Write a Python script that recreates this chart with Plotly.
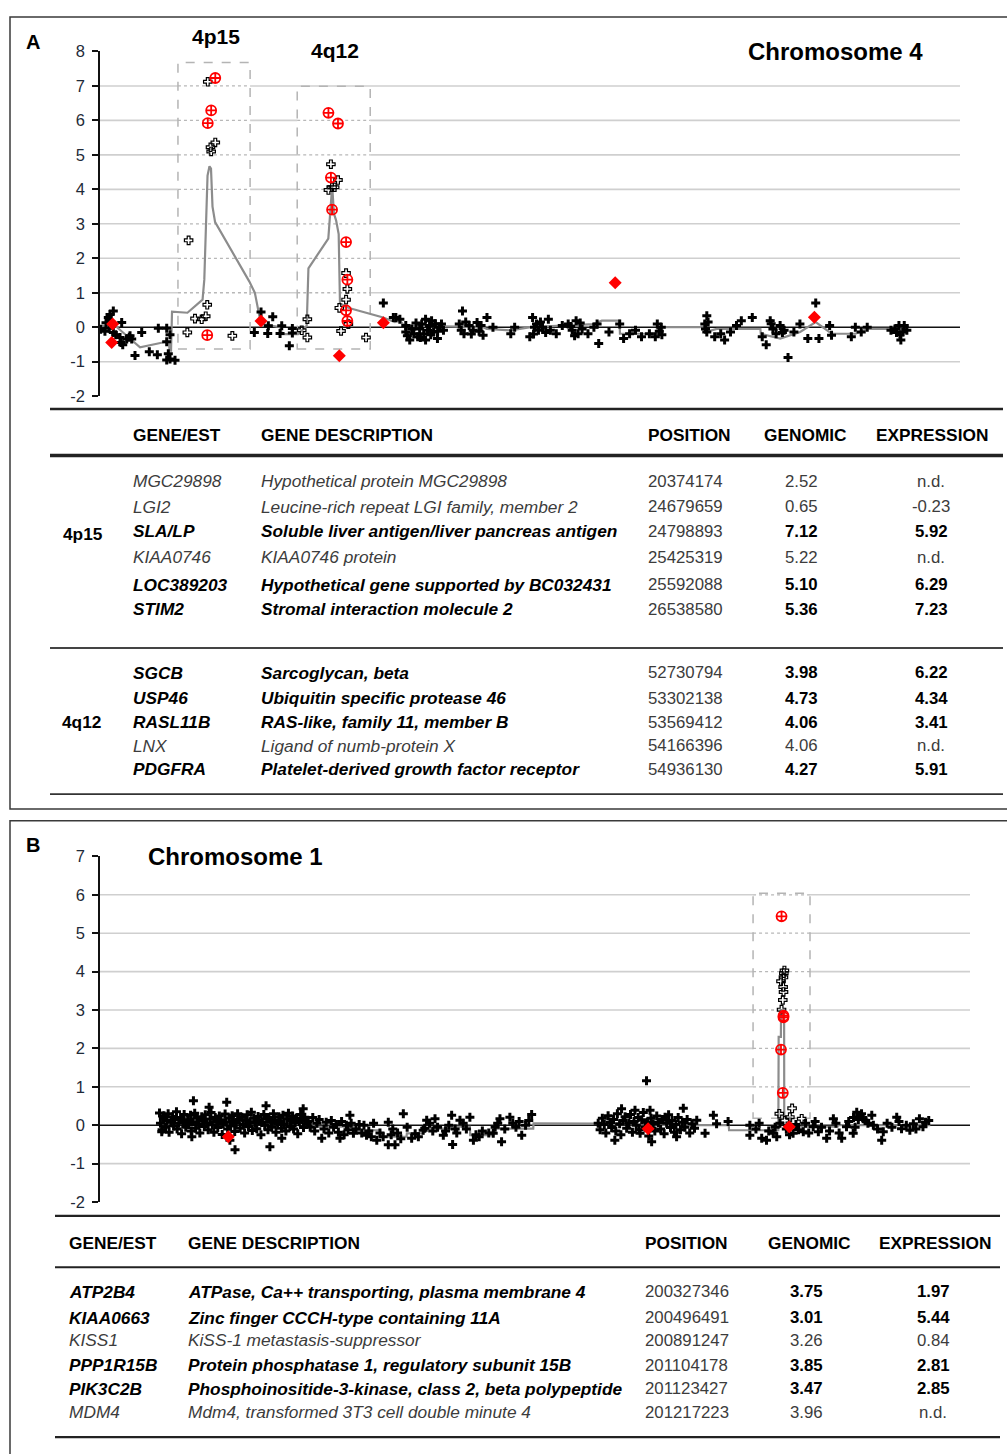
import plotly.graph_objects as go

W, H = 1007, 1454
FONT = "Liberation Sans, Arial, sans-serif"

# ---------------- Chromosome 4 data (x = position in Mb, y = log2 ratio) ----------------
chr4_black = [
    (0.02, -0.06), (1.0, -0.12), (1.25, 0.13), (1.78, 0.28), (2.01, -0.03), (2.18, 0.11), (2.18, 0.37),
    (2.94, 0.47), (2.94, -0.15), (3.5, -0.22), (4.49, -0.30), (4.72, -0.44), (4.88, 0.14), (5.12, -0.51),
    (6.04, -0.34), (6.64, -0.29), (6.81, -0.25), (7.20, -0.34), (7.96, -0.82), (9.51, -0.15), (11.27, -0.71),
    (13.13, -0.80), (13.36, -0.03), (15.30, -0.03), (15.30, -0.42), (15.67, -0.77), (15.30, -0.95),
    (16.06, -0.22), (17.22, -0.96), (16.06, -0.92),
    (35.58, -0.15), (37.13, 0.44), (38.82, 0.04), (38.68, -0.18), (39.84, 0.30), (41.53, -0.18),
    (41.92, 0.04), (43.68, -0.54), (44.38, -0.04), (44.38, -0.17),
    (65.44, 0.70), (67.75, 0.28), (68.33, 0.28), (69.26, 0.23), (70.63, 0.05), (70.63, -0.14), (71.0, -0.25),
    (71.55, -0.37), (72.0, -0.05), (72.48, -0.19), (73.0, 0.12), (73.38, -0.28), (73.84, -0.05), (74.0, -0.30),
    (74.31, 0.09), (74.77, -0.19), (75.21, 0.23), (75.21, -0.37), (75.67, -0.09), (76.13, 0.05), (76.4, -0.22),
    (76.60, 0.19), (77.06, -0.14), (77.5, 0.10), (77.96, -0.33), (78.0, -0.12), (78.43, 0.00), (78.89, 0.09),
    (79.35, -0.09), (83.01, 0.09), (83.47, -0.09), (83.75, 0.47), (84.10, -0.19), (84.5, 0.15), (85.30, 0.05),
    (85.8, -0.20), (86.23, -0.09), (87.13, 0.14), (87.6, -0.12), (88.06, 0.05), (88.52, -0.23), (89.42, 0.28),
    (90.81, 0.00), (94.93, -0.19), (95.83, 0.00), (99.33, -0.28), (99.98, 0.28), (100.2, -0.20), (100.42, 0.00),
    (100.88, 0.09), (101.34, -0.09), (101.8, 0.15), (102.27, 0.00), (103.0, -0.15), (103.63, 0.23),
    (104.10, -0.09), (105.46, -0.19), (106.85, 0.05), (108.22, 0.09), (108.8, 0.02), (109.14, -0.09),
    (109.7, -0.25), (110.05, 0.19), (110.51, -0.19), (111.0, 0.12), (111.44, -0.05), (112.80, -0.19),
    (114.17, 0.00), (114.91, 0.09), (115.28, -0.47), (117.66, -0.14), (120.14, 0.09), (121.04, -0.33),
    (122.43, -0.19), (123.80, -0.09), (125.19, -0.28), (127.01, -0.19), (128.38, -0.28), (128.84, 0.09),
    (129.3, -0.12), (129.77, 0.00), (129.9, -0.22), (139.84, 0.09), (140.0, -0.05), (140.30, 0.33),
    (140.30, -0.14), (140.6, 0.15), (142.13, -0.28), (143.52, -0.19), (144.42, -0.37), (145.79, -0.14),
    (147.18, 0.05), (148.29, 0.19), (150.83, 0.28), (153.13, -0.28), (154.05, -0.51), (154.98, 0.19),
    (155.2, 0.10), (155.60, -0.05), (156.34, -0.19), (157.27, 0.05), (157.8, -0.15), (158.19, -0.09),
    (159.10, -0.88), (160.46, -0.14), (161.85, 0.09), (163.68, -0.33), (165.51, 0.70), (166.25, -0.33),
    (168.73, 0.05), (169.17, -0.23), (173.75, -0.28), (174.68, 0.00), (176.04, -0.14), (177.43, 0.00),
    (182.92, -0.09), (183.84, -0.05), (184.2, -0.15), (184.77, 0.05), (185.0, -0.22), (185.21, -0.37),
    (185.67, -0.14), (186.0, 0.05), (186.60, -0.09),
]
chr4_open = [
    (20.07, -0.15), (20.37, 2.52), (21.85, 0.25), (23.40, 0.23), (24.33, 0.32), (24.68, 0.65), (24.80, 7.12),
    (25.43, 5.22), (25.59, 5.10), (26.54, 5.36), (30.49, -0.25),
    (46.55, -0.09), (47.85, -0.30), (47.85, 0.23), (52.73, 3.98), (53.30, 4.73), (53.57, 4.06), (54.17, 4.06),
    (54.94, 4.27), (55.25, 0.56), (55.65, -0.11), (56.81, 1.57), (57.11, 1.11), (56.81, 0.80), (57.34, 0.09),
    (61.43, -0.30),
]
chr4_red_diamond = [(2.80, 0.09), (2.57, -0.44), (37.13, 0.18), (55.25, -0.83), (65.44, 0.13),
                    (119.1, 1.29), (165.2, 0.29)]
chr4_red_open = [(24.68, -0.23), (24.80, 5.92), (25.59, 6.29), (26.54, 7.23), (52.73, 6.22), (53.30, 4.34),
                 (53.57, 3.41), (54.94, 5.91), (56.81, 2.47), (57.11, 1.38), (56.81, 0.49), (57.11, 0.18)]
chr4_segments = [
    (0.25, 0.04), (3.33, 0.05), (9.12, -0.58), (14.9, -0.43), (15.83, -0.43), (15.95, -0.68), (16.3, -0.68),
    (16.53, 0.45), (20.1, 0.42), (23.6, 0.8), (24.0, 1.38), (24.75, 4.4), (25.2, 4.67), (25.55, 4.6),
    (25.9, 3.5), (26.5, 3.05), (34.4, 1.33), (35.7, 1.0), (37.1, 0.1), (41.5, 0.0), (42.0, -0.2), (45.7, -0.2),
    (47.7, 0.04), (48.1, 1.71), (52.7, 2.57), (53.1, 3.3), (53.6, 4.1), (54.0, 3.3), (54.5, 3.1), (55.1, 2.7),
    (55.4, 0.7), (56.6, 0.6), (57.7, 0.55), (65.4, 0.28), (68.1, 0.15), (69.3, 0.19), (70.2, 0.05),
    (88.5, 0.0), (89.4, -0.05), (94.9, -0.09), (99.5, 0.0), (114.2, 0.09), (116.0, 0.19), (120.1, 0.19),
    (120.2, -0.19), (128.8, -0.19), (128.9, 0.0), (139.8, 0.0), (140.0, -0.14), (142.6, -0.05), (152.7, -0.05),
    (152.8, -0.19), (157.3, -0.33), (161.9, -0.14), (164.6, 0.09), (165.5, 0.15), (169.2, -0.19),
    (174.7, -0.19), (177.4, -0.05), (186.6, -0.05),
]
chr4_boxes = [(17.9, 34.6, -0.63, 7.68), (45.5, 62.4, -0.63, 6.99)]

# ---------------- Chromosome 1 data ----------------
chr1_black = [
    (6.1, 0.32), (6.4, 0.05), (6.8, -0.17), (6.9, -0.12), (7.3, 0.18), (7.5, 0.25), (8.0, -0.05), (8.4, 0.12),
    (8.8, 0.30), (9.1, -0.18), (9.7, 0.08), (10.2, 0.22), (10.5, -0.02), (10.9, 0.15), (11.4, 0.35),
    (11.6, -0.10), (12.1, 0.05), (12.7, 0.20), (13.0, -0.22), (13.5, 0.10), (13.8, 0.28), (14.3, -0.05),
    (14.9, 0.14), (15.2, 0.02), (15.8, 0.26), (16.0, -0.15), (16.2, -0.30), (16.5, 0.09), (16.7, 0.64),
    (17.1, 0.31), (17.4, -0.08), (17.9, 0.18), (18.3, 0.04), (18.7, -0.20), (19.3, 0.22), (19.6, 0.12),
    (20.1, -0.03), (20.4, 0.27), (20.9, 0.06), (21.3, -0.12), (21.6, 0.47), (21.9, 0.16), (22.2, 0.33),
    (22.6, 0.01), (23.1, -0.18), (23.5, 0.20), (24.0, 0.10), (24.3, -0.06), (24.8, 0.24), (25.2, 0.14),
    (25.7, -0.24), (26.0, 0.03), (26.6, 0.29), (26.9, 0.08), (27.1, 0.60), (27.4, -0.10), (27.9, 0.19),
    (28.1, -0.39), (28.3, -0.02), (28.8, 0.25), (29.2, 0.11), (29.6, -0.16), (29.7, -0.64), (30.1, 0.06),
    (30.5, 0.30), (31.0, 0.15), (31.3, -0.08), (31.8, 0.21), (32.2, 0.02), (32.7, -0.20), (33.0, 0.13),
    (33.5, 0.27), (33.9, -0.04), (34.4, 0.09), (34.8, 0.34), (35.1, -0.14), (35.6, 0.18), (36.0, 0.05),
    (36.5, -0.09), (36.9, 0.23), (37.3, 0.12), (37.8, -0.25), (38.1, 0.07), (38.7, 0.28), (39.0, 0.00),
    (39.4, 0.51), (39.6, 0.16), (40.0, -0.12), (40.3, 0.20), (40.6, -0.56), (40.9, 0.08), (41.2, -0.05),
    (41.7, 0.30), (42.1, 0.14), (42.5, -0.18), (43.0, 0.04), (43.4, 0.22), (43.9, 0.10), (44.2, -0.08),
    (44.3, -0.34), (44.7, 0.26), (45.0, 0.02), (45.6, -0.15), (45.9, 0.17), (46.4, 0.31), (46.8, -0.03),
    (47.2, 0.12), (47.7, 0.24), (48.0, -0.10), (48.5, 0.06), (48.9, 0.19), (49.3, -0.22), (49.8, 0.09),
    (50.2, 0.28), (50.6, 0.15), (51.0, 0.43), (51.1, -0.06), (51.5, 0.21), (51.9, 0.11),
    (52.5, 0.10), (53.2, -0.05), (54.0, 0.20), (54.6, -0.15), (55.3, 0.05), (56.0, 0.15), (56.8, -0.34),
    (57.5, -0.10), (58.2, 0.08), (59.0, -0.20), (59.8, 0.12), (60.5, -0.05), (61.3, 0.02), (62.0, -0.18),
    (62.5, -0.34), (63.0, 0.10), (63.8, -0.25), (64.5, 0.00), (65.0, -0.12), (65.6, 0.26), (66.0, 0.05),
    (66.7, -0.21), (67.5, -0.10), (68.5, 0.02), (69.3, -0.20), (70.0, 0.00), (70.8, -0.26), (71.5, -0.15),
    (72.3, -0.30), (73.0, 0.05), (74.0, -0.39), (75.0, -0.20), (76.0, -0.30), (77.6, 0.08), (77.6, -0.51),
    (78.5, -0.25), (79.0, -0.10), (79.7, -0.51), (80.5, -0.20), (81.5, -0.35), (82.3, 0.30), (83.5, -0.05),
    (84.9, -0.34), (86.0, -0.22), (87.0, -0.30), (88.5, -0.13), (89.0, -0.08), (89.6, 0.13), (90.5, 0.05),
    (91.5, -0.15), (92.2, 0.17), (93.0, -0.05), (94.8, -0.26), (95.5, -0.15), (96.5, 0.00), (97.4, 0.26),
    (97.7, -0.50), (98.5, -0.10), (99.0, -0.20), (100.0, 0.13), (101.0, 0.05), (102.0, -0.10), (103.1, 0.21),
    (104.2, -0.39), (105.0, -0.25), (106.0, -0.30), (107.0, -0.15), (109.0, -0.20), (110.4, -0.21),
    (111.0, -0.05), (111.8, 0.05), (112.5, 0.17), (113.0, -0.43), (114.0, -0.10), (115.6, 0.21),
    (116.5, 0.05), (117.5, -0.05), (118.5, 0.10), (119.3, -0.26), (120.5, 0.00), (121.5, 0.12), (122.4, 0.28),
    (143.2, 0.05), (143.8, -0.12), (144.5, 0.18), (145.1, 0.02), (145.6, -0.20), (146.3, 0.25), (146.9, 0.08),
    (147.4, -0.06), (148.0, 0.15), (148.4, -0.39), (148.7, -0.15), (149.2, 0.30), (149.9, 0.04), (150.3, -0.25),
    (150.5, 0.43), (151.0, 0.12), (151.6, 0.22), (152.1, -0.08), (152.8, 0.06), (153.3, 0.28), (153.9, -0.18),
    (154.4, 0.10), (154.7, 0.39), (155.1, 0.00), (155.7, 0.20), (156.0, -0.12), (156.3, -0.21), (156.8, 0.14),
    (157.3, 0.33), (157.9, -0.05), (158.3, 1.16), (158.6, 0.08), (159.0, -0.28), (159.4, 0.39), (159.7, 0.18),
    (159.9, -0.43), (160.4, 0.03), (160.9, -0.15), (161.5, 0.24), (162.0, 0.07), (162.7, -0.10), (163.3, 0.15),
    (163.8, -0.22), (164.1, 0.21), (164.6, 0.05), (165.2, 0.27), (165.8, -0.06), (166.3, 0.12), (167.0, -0.18),
    (167.5, 0.02), (167.7, -0.30), (168.2, 0.20), (168.9, -0.12), (169.5, 0.08), (169.8, 0.44), (170.3, -0.05),
    (171.0, 0.15), (171.8, -0.20), (172.5, 0.04), (173.3, -0.08), (174.0, 0.13), (176.6, -0.21), (179.2, 0.26),
    (180.2, 0.04), (183.8, 0.10),
    (190.6, 0.00), (190.6, -0.26), (192.5, -0.10), (193.5, 0.05), (194.3, -0.34), (195.8, -0.39),
    (196.5, -0.15), (197.9, -0.21), (198.5, -0.05), (199.0, -0.30), (200.0, 0.05), (202.0, -0.10),
    (203.0, -0.25), (204.1, -0.21), (205.0, 0.02), (205.8, -0.12), (207.3, -0.17), (208.0, 0.05),
    (209.0, -0.20), (210.4, -0.04), (211.0, 0.10), (212.0, -0.17), (213.0, -0.05), (214.6, -0.34),
    (215.5, -0.15), (216.7, 0.17), (217.5, 0.05), (218.5, -0.20), (219.3, -0.34), (220.8, -0.04),
    (221.5, 0.10), (222.9, -0.21), (223.0, 0.20), (223.5, -0.05), (224.0, 0.34), (224.5, 0.15), (225.0, 0.25),
    (225.5, 0.30), (226.0, 0.17), (226.8, 0.12), (227.5, 0.05), (228.7, 0.26), (229.2, 0.00), (230.5, -0.10),
    (231.8, -0.39), (232.3, -0.17), (233.5, 0.05), (235.0, -0.05), (236.5, 0.21), (237.2, 0.10),
    (238.0, -0.09), (239.5, 0.00), (240.6, -0.13), (241.7, 0.04), (242.5, -0.10), (243.6, 0.17),
    (244.7, -0.04), (245.5, 0.08), (246.5, 0.12),
]
chr1_open = [(200.33, 3.75), (200.50, 3.01), (200.89, 3.26), (201.10, 3.85), (201.12, 3.47), (201.22, 3.96),
             (201.4, 4.03), (201.0, 3.60), (199.8, 0.30), (201.5, 0.12), (203.1, 0.21), (203.8, 0.44),
             (206.8, 0.17)]
chr1_red_diamond = [(27.6, -0.30), (158.8, -0.09), (202.9, -0.04)]
chr1_red_open = [(200.50, 5.44), (200.33, 1.97), (200.89, 0.84), (201.10, 2.81), (201.12, 2.85)]
chr1_segments = [
    (6.25, 0.04), (54.2, 0.04), (54.3, -0.04), (66.7, -0.04), (66.8, -0.13), (75.0, -0.13), (75.1, -0.30),
    (83.3, -0.30), (83.4, -0.21), (88.5, -0.21), (88.6, -0.09), (96.9, -0.09), (97.0, -0.04), (103.1, -0.04),
    (103.2, -0.26), (110.4, -0.26), (110.5, -0.09), (122.9, -0.09), (123.0, 0.05), (143.0, 0.04),
    (170.0, 0.0), (184.0, 0.0), (184.1, -0.13), (199.5, -0.13), (199.6, 2.3), (200.3, 2.3), (200.35, 3.0),
    (201.3, 3.0), (201.35, 0.2), (203.5, 0.2), (203.6, -0.04), (218.0, -0.04), (218.1, 0.0), (247.0, 0.0),
]
chr1_boxes = [(191.6, 209.4, 0.18, 6.04)]

# ---------------- Tables ----------------
table_cols = ["GENE/EST", "GENE DESCRIPTION", "POSITION", "GENOMIC", "EXPRESSION"]
tableA_region = ["4p15", "4q12"]
tableA_gene = ["MGC29898", "LGI2", "SLA/LP", "KIAA0746", "LOC389203", "STIM2",
               "SGCB", "USP46", "RASL11B", "LNX", "PDGFRA"]
tableA_desc = ["Hypothetical protein MGC29898", "Leucine-rich repeat LGI family, member 2",
               "Soluble liver antigen/liver pancreas antigen", "KIAA0746 protein",
               "Hypothetical gene supported by BC032431", "Stromal interaction molecule 2",
               "Sarcoglycan, beta", "Ubiquitin specific protease 46", "RAS-like, family 11, member B",
               "Ligand of numb-protein X", "Platelet-derived growth factor receptor"]
tableA_pos = ["20374174", "24679659", "24798893", "25425319", "25592088", "26538580",
              "52730794", "53302138", "53569412", "54166396", "54936130"]
tableA_genomic = ["2.52", "0.65", "7.12", "5.22", "5.10", "5.36", "3.98", "4.73", "4.06", "4.06", "4.27"]
tableA_expr = ["n.d.", "-0.23", "5.92", "n.d.", "6.29", "7.23", "6.22", "4.34", "3.41", "n.d.", "5.91"]
tableA_bold = [False, False, True, False, True, True, True, True, True, False, True]

tableB_gene = ["ATP2B4", "KIAA0663", "KISS1", "PPP1R15B", "PIK3C2B", "MDM4"]
tableB_desc = ["ATPase, Ca++ transporting, plasma membrane 4", "Zinc finger CCCH-type containing 11A",
               "KiSS-1 metastasis-suppressor", "Protein phosphatase 1, regulatory subunit 15B",
               "Phosphoinositide-3-kinase, class 2, beta polypeptide", "Mdm4, transformed 3T3 cell double minute 4"]
tableB_pos = ["200327346", "200496491", "200891247", "201104178", "201123427", "201217223"]
tableB_genomic = ["3.75", "3.01", "3.26", "3.85", "3.47", "3.96"]
tableB_expr = ["1.97", "5.44", "0.84", "2.81", "2.85", "n.d."]
tableB_bold = [True, True, False, True, True, False]

yticksA = [-2, -1, 0, 1, 2, 3, 4, 5, 6, 7, 8]
yticksB = [-2, -1, 0, 1, 2, 3, 4, 5, 6, 7]

# ---------------- Figure ----------------
def px(x):
    return x / W


def py(y):
    return 1 - y / H


fig = go.Figure()
shapes = []
annotations = []

XR4 = [-0.14, 198.9]
XR1 = [-12.5, 259.4]


def add_grid(xref, yref, xr, levels, boxes):
    for lv in levels:
        cuts = [xr[0]]
        for (bx0, bx1, by0, by1) in boxes:
            if by0 <= lv <= by1:
                cuts += [bx0, bx1]
        cuts.append(xr[1])
        inside = False
        for i in range(len(cuts) - 1):
            shapes.append(dict(type="line", xref=xref, yref=yref, x0=cuts[i], x1=cuts[i + 1], y0=lv, y1=lv,
                               layer="below",
                               line=dict(color="#b8b8b8" if inside else "#cfcfcf", width=1.3 if inside else 1.6,
                                         dash="dot" if inside else "solid")))
            inside = not inside
    shapes.append(dict(type="line", xref=xref, yref=yref, x0=xr[0], x1=xr[1], y0=0, y1=0, layer="below",
                       line=dict(color="#111111", width=1.5)))
    for (bx0, bx1, by0, by1) in boxes:
        shapes.append(dict(type="rect", xref=xref, yref=yref, x0=bx0, x1=bx1, y0=by0, y1=by1, layer="below",
                           line=dict(color="#b4b4b4", width=1.5, dash="dash")))


add_grid("x", "y", XR4, [-1, 1, 2, 3, 4, 5, 6, 7], chr4_boxes)
add_grid("x2", "y2", XR1, [-1, 1, 2, 3, 4, 5, 6], chr1_boxes)


def unzip(pairs):
    return [p[0] for p in pairs], [p[1] for p in pairs]


def add_chart(xa, ya, seg, black, opn, rdia, ropen):
    x, y = unzip(seg)
    fig.add_trace(go.Scatter(x=x, y=y, xaxis=xa, yaxis=ya, mode="lines",
                             line=dict(color="#8c8c8c", width=2.2), hoverinfo="skip"))
    x, y = unzip(black)
    fig.add_trace(go.Scatter(x=x, y=y, xaxis=xa, yaxis=ya, mode="markers",
                             marker=dict(symbol="cross", size=7.5, color="black", line=dict(width=0))))
    x, y = unzip(opn)
    fig.add_trace(go.Scatter(x=x, y=y, xaxis=xa, yaxis=ya, mode="markers",
                             marker=dict(symbol="cross-open", size=7, color="black", line=dict(width=1.2))))
    x, y = unzip(rdia)
    fig.add_trace(go.Scatter(x=x, y=y, xaxis=xa, yaxis=ya, mode="markers",
                             marker=dict(symbol="diamond", size=10, color="#ff0000", line=dict(width=0))))
    x, y = unzip(ropen)
    fig.add_trace(go.Scatter(x=x, y=y, xaxis=xa, yaxis=ya, mode="markers",
                             marker=dict(symbol="circle-cross-open", size=10, color="#ff0000",
                                         line=dict(width=1.8))))


add_chart("x", "y", chr4_segments, chr4_black, chr4_open, chr4_red_diamond, chr4_red_open)
add_chart("x2", "y2", chr1_segments, chr1_black, chr1_open, chr1_red_diamond, chr1_red_open)


def txt(x, y, s, size=16, anchor="left", color="#000000"):
    annotations.append(dict(x=px(x), y=py(y), xref="paper", yref="paper", text=s, showarrow=False,
                            xanchor=anchor, yanchor="middle",
                            font=dict(family=FONT, size=size, color=color)))


def hline(x0, x1, y, width, color="#222222"):
    shapes.append(dict(type="line", xref="paper", yref="paper", x0=px(x0), x1=px(x1), y0=py(y), y1=py(y),
                       line=dict(color=color, width=width)))


# panel borders
shapes.append(dict(type="rect", xref="paper", yref="paper", x0=px(10), x1=px(1015), y0=py(810), y1=py(8),
                   line=dict(color="#3a3a3a", width=1.5)))
shapes.append(dict(type="rect", xref="paper", yref="paper", x0=px(10), x1=px(1015), y0=py(1465), y1=py(822),
                   line=dict(color="#3a3a3a", width=1.5)))

# labels & titles
txt(33, 33, "<b>A</b>", 20, "center")
txt(33, 846, "<b>B</b>", 20, "center")
txt(216, 28, "<b>4p15</b>", 21, "center")
txt(335, 42, "<b>4q12</b>", 21, "center")
txt(835, 43, "<b>Chromosome 4</b>", 24, "center")
txt(235, 858, "<b>Chromosome 1</b>", 24, "center")

TS = 17.3   # table text size
NS = 16.8   # table number size

# ---- Table A ----
hline(50, 1003, 405, 2.5)
hline(50, 1003, 452, 3.5)
hline(50, 1003, 647, 1.8, "#444444")
hline(50, 1003, 795, 1.8, "#333333")
hdrA_x = [131, 259, 646, 762, 874]
for hx, h in zip(hdrA_x, table_cols):
    txt(hx, 431, "<b>" + h + "</b>", TS)
rowsA_y = [478, 504, 529, 555, 583, 608, 672, 698, 722, 746, 770]
txt(83, 532, "<b>" + tableA_region[0] + "</b>", TS, "center")
txt(81, 722, "<b>" + tableA_region[1] + "</b>", TS, "center")
for i, ry in enumerate(rowsA_y):
    b = tableA_bold[i]
    col = "#000000" if b else "#3c3c3c"
    wrap = (lambda s: "<b><i>" + s + "</i></b>") if b else (lambda s: "<i>" + s + "</i>")
    numw = (lambda s: "<b>" + s + "</b>") if b else (lambda s: s)
    txt(131, ry, wrap(tableA_gene[i]), TS, "left", col)
    txt(259, ry, wrap(tableA_desc[i]), TS, "left", col)
    txt(646, ry, tableA_pos[i], NS, "left", "#3c3c3c")
    txt(801, ry, numw(tableA_genomic[i]), NS, "center", col)
    txt(931, ry, numw(tableA_expr[i]), NS, "center", col)

# ---- Table B ----
hline(55, 1000, 1222, 2.2)
hline(55, 1000, 1274, 2.2)
hline(55, 1000, 1446, 2.2)
hdrB_x = [67, 186, 643, 766, 877]
for hx, h in zip(hdrB_x, table_cols):
    txt(hx, 1249, "<b>" + h + "</b>", TS)
rowsB_y = [1299, 1325, 1348, 1373, 1397, 1421]
for i, ry in enumerate(rowsB_y):
    b = tableB_bold[i]
    col = "#000000" if b else "#3c3c3c"
    wrap = (lambda s: "<b><i>" + s + "</i></b>") if b else (lambda s: "<i>" + s + "</i>")
    numw = (lambda s: "<b>" + s + "</b>") if b else (lambda s: s)
    txt(67, ry, wrap(tableB_gene[i]), TS, "left", col)
    txt(186, ry, wrap(tableB_desc[i]), TS, "left", col)
    txt(643, ry, tableB_pos[i], NS, "left", "#3c3c3c")
    txt(806, ry, numw(tableB_genomic[i]), NS, "center", col)
    txt(933, ry, numw(tableB_expr[i]), NS, "center", col)

yaxis_common = dict(showgrid=False, zeroline=False, showline=True, linecolor="#111111", linewidth=1.5,
                    ticks="outside", ticklen=6, tickcolor="#111111", tickwidth=1.5, ticklabelstandoff=4,
                    tickfont=dict(family=FONT, size=16.5, color="#1e2a38"), fixedrange=True)
xaxis_common = dict(visible=False, fixedrange=True)

fig.update_layout(
    width=W, height=H, margin=dict(l=0, r=0, t=0, b=0),
    paper_bgcolor="white", plot_bgcolor="rgba(0,0,0,0)", showlegend=False,
    xaxis=dict(domain=[px(100), px(960)], range=XR4, **xaxis_common),
    yaxis=dict(domain=[py(392), py(43)], range=[-2, 8], tickvals=yticksA,
               ticktext=[str(v) for v in yticksA], anchor="x", **yaxis_common),
    xaxis2=dict(domain=[px(100), px(970)], range=XR1, anchor="y2", **xaxis_common),
    yaxis2=dict(domain=[py(1208), py(858)], range=[-2, 7], tickvals=yticksB,
                ticktext=[str(v) for v in yticksB], anchor="x2", **yaxis_common),
    shapes=shapes, annotations=annotations,
)

fig.write_html("out.html", config={"displayModeBar": False},
               post_script="document.body.style.margin='0px';document.documentElement.style.overflow='hidden';")
